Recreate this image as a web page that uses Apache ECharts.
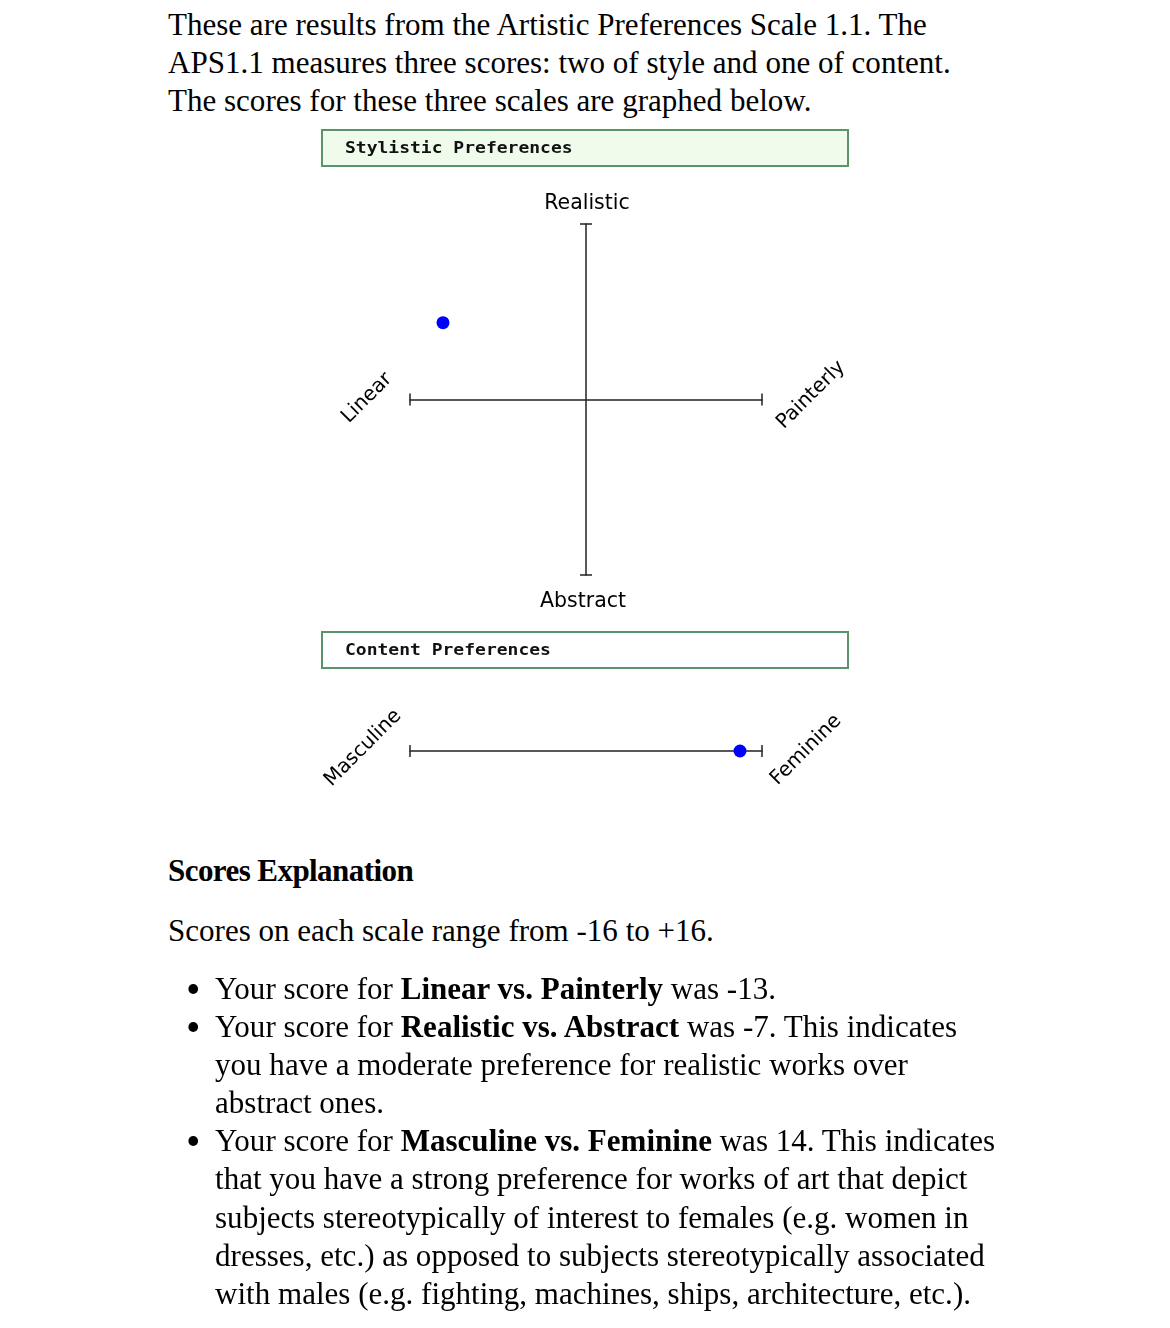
<!DOCTYPE html>
<html>
<head>
<meta charset="utf-8">
<script src="https://cdn.jsdelivr.net/npm/echarts@6/dist/echarts.min.js"></script>
<style>
  body { margin: 0; background: #fff; }
  .txt {
    position: absolute; left: 168px;
    font-family: 'Liberation Serif', serif; font-size: 32px; line-height: 38px;
    color: #000; white-space: nowrap;
    transform: scaleX(0.97); transform-origin: left top;
  }
  .dot { position: absolute; left: 21px; width: 10px; height: 10px; border-radius: 50%; background: #000; }
  #chart { position: absolute; left: 0; top: 120px; width: 1170px; height: 700px; }
</style>
</head>
<body>
<div class="txt" style="top:5px">These are results from the Artistic Preferences Scale 1.1. The<br>APS1.1 measures three scores: two of style and one of content.<br>The scores for these three scales are graphed below.</div>
<div id="chart"></div>
<div class="txt" style="top:851px"><b style="letter-spacing:-0.6px">Scores Explanation</b></div>
<div class="txt" style="top:911px" id="range"></div>
<div class="txt" style="top:969px" id="list"></div>
<script>
// score range of every scale
const scaleRange = [-16, 16];
// stylistic scores: [Linear vs. Painterly, Realistic vs. Abstract]
const styleScores = [-13, -7];
// content score: Masculine vs. Feminine
const contentScores = [14];
const stylePoles = ['Linear', 'Painterly', 'Realistic', 'Abstract'];
const contentPoles = ['Masculine', 'Feminine'];
const panelTitles = ['Stylistic Preferences', 'Content Preferences'];

const axisColor = '#222';
const boxColor = '#5b9468';
const dotColor = '#0000ff';

// text below the chart
document.getElementById('range').textContent =
  'Scores on each scale range from ' + scaleRange[0] + ' to +' + scaleRange[1] + '.';
const items = [
  ['Your score for <b>' + stylePoles[0] + ' vs. ' + stylePoles[1] + '</b> was ' + styleScores[0] + '.'],
  ['Your score for <b>' + stylePoles[2] + ' vs. ' + stylePoles[3] + '</b> was ' + styleScores[1] + '. This indicates',
   'you have a moderate preference for realistic works over',
   'abstract ones.'],
  ['Your score for <b>' + contentPoles[0] + ' vs. ' + contentPoles[1] + '</b> was ' + contentScores[0] + '. This indicates',
   'that you have a strong preference for works of art that depict',
   'subjects stereotypically of interest to females (e.g. women in',
   'dresses, etc.) as opposed to subjects stereotypically associated',
   'with males (e.g. fighting, machines, ships, architecture, etc.).']
];
let html = '', row = 0;
items.forEach(function (lines) {
  html += '<div class="dot" style="top:' + (row * 38.1 + 15) + 'px"></div>';
  html += '<div style="position:absolute;left:48.5px;top:' + (row * 38.1) + 'px;line-height:38.1px">' + lines.join('<br>') + '</div>';
  row += lines.length;
});
document.getElementById('list').innerHTML = html;

let chart = echarts.init(document.getElementById('chart'));

let lineAxis = function (grid, inverse) {
  return {
    gridIndex: grid, type: 'value', min: scaleRange[0], max: scaleRange[1], inverse: inverse,
    axisLine: {
      show: true, onZero: true,
      symbol: ['rect', 'rect'], symbolSize: [12, 1.5],
      lineStyle: { color: axisColor, width: 1.5 }
    },
    axisTick: { show: false },
    axisLabel: { show: false },
    splitLine: { show: false }
  };
};

let poleText = function (txt, x, y, rot, size) {
  return {
    type: 'text', x: x, y: y, rotation: rot,
    style: {
      text: txt, fontFamily: 'DejaVu Sans', fontSize: size, fill: '#000',
      align: 'center', verticalAlign: 'middle'
    }
  };
};

let titleBox = function (txt, y, fill) {
  return {
    type: 'group', x: 322, y: y,
    children: [
      { type: 'rect', shape: { x: 0, y: 0, width: 526, height: 36 },
        style: { fill: fill, stroke: boxColor, lineWidth: 2 } },
      { type: 'text', x: 23, y: 19, scaleX: 1.2,
        style: { text: txt, fontFamily: 'DejaVu Sans Mono', fontSize: 15, fontWeight: 'bold',
          fill: '#111', verticalAlign: 'middle' } }
    ]
  };
};

let option = {
  animation: false,
  grid: [
    { left: 410, top: 104, width: 352, height: 351 },
    { left: 410, top: 611, width: 352, height: 40 }
  ],
  xAxis: [lineAxis(0, false), lineAxis(1, false)],
  yAxis: [
    lineAxis(0, true),
    { gridIndex: 1, type: 'value', min: -1, max: 1, show: false }
  ],
  series: [
    {
      type: 'scatter', xAxisIndex: 0, yAxisIndex: 0,
      symbolSize: 13, itemStyle: { color: dotColor, opacity: 1 },
      data: [styleScores]
    },
    {
      type: 'scatter', xAxisIndex: 1, yAxisIndex: 1,
      symbolSize: 13, itemStyle: { color: dotColor, opacity: 1 },
      data: contentScores.map(function (v) { return [v, 0]; })
    }
  ],
  graphic: [
    titleBox(panelTitles[0], 10, '#effcec'),
    titleBox(panelTitles[1], 512, '#ffffff'),
    poleText(stylePoles[0], 367, 278, Math.PI / 4, 20),
    poleText(stylePoles[1], 811, 275, Math.PI / 4, 20),
    poleText(stylePoles[2], 587, 84, 0, 20.5),
    poleText(stylePoles[3], 583, 482, 0, 20.5),
    poleText(contentPoles[0], 363, 628, Math.PI / 4, 20),
    poleText(contentPoles[1], 806, 630, Math.PI / 4, 20)
  ]
};
chart.setOption(option);
</script>
</body>
</html>
